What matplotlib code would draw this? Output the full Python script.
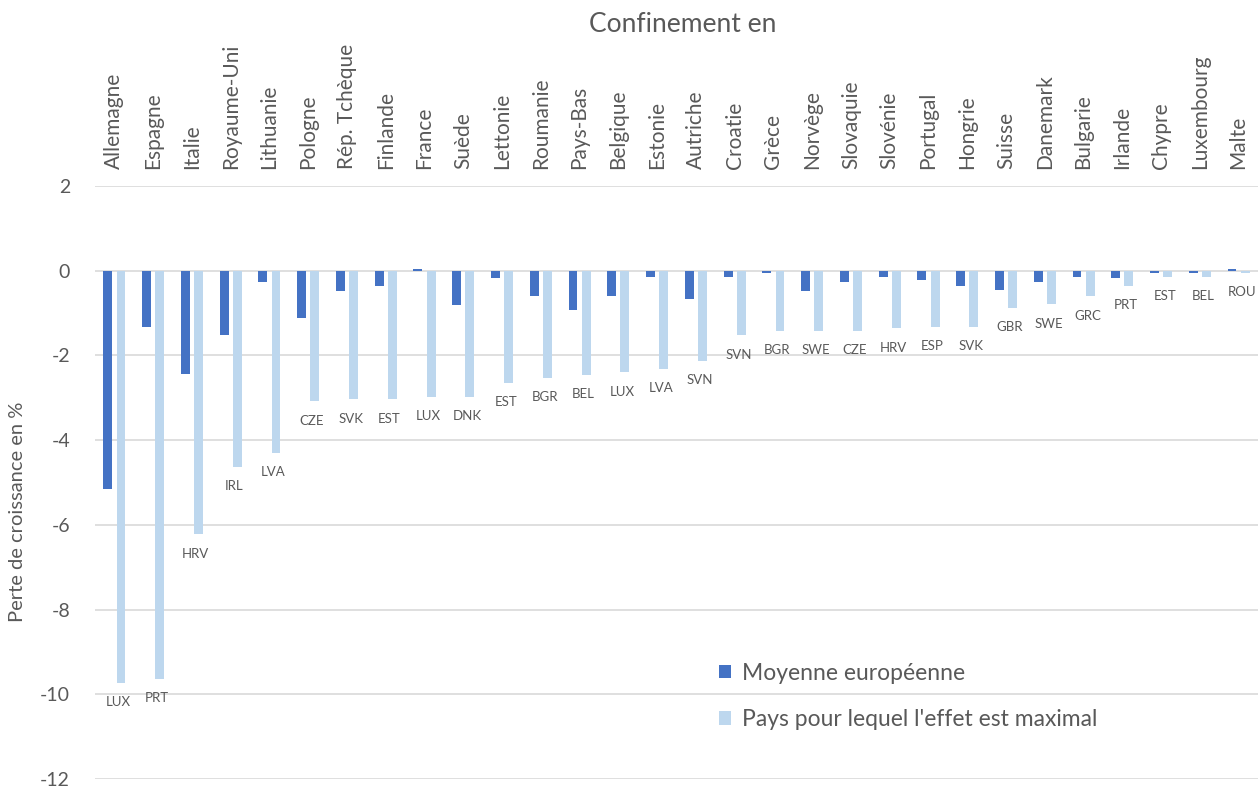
import numpy as np
import matplotlib.pyplot as plt

# Data
countries = [
    'Allemagne', 'Espagne', 'Italie', 'Royaume-Uni', 'Lithuanie', 'Pologne',
    'Rép. Tchèque', 'Finlande', 'France', 'Suède', 'Lettonie', 'Roumanie',
    'Pays-Bas', 'Belgique', 'Estonie', 'Autriche', 'Croatie', 'Grèce',
    'Norvège', 'Slovaquie', 'Slovénie', 'Portugal', 'Hongrie', 'Suisse',
    'Danemark', 'Bulgarie', 'Irlande', 'Chypre', 'Luxembourg', 'Malte'
]
moyenne = [
    -5.15, -1.33, -2.45, -1.51, -0.26, -1.12, -0.47, -0.35, 0.04, -0.81,
    -0.17, -0.60, -0.93, -0.60, -0.14, -0.66, -0.14, -0.05, -0.47, -0.26,
    -0.14, -0.23, -0.35, -0.45, -0.26, -0.14, -0.17, -0.05, -0.05, 0.04
]
maximal = [
    -9.73, -9.64, -6.22, -4.63, -4.30, -3.08, -3.04, -3.04, -2.98, -2.98,
    -2.64, -2.53, -2.46, -2.40, -2.31, -2.13, -1.52, -1.42, -1.42, -1.42,
    -1.36, -1.33, -1.33, -0.87, -0.79, -0.60, -0.35, -0.14, -0.14, -0.05
]
max_labels = [
    'LUX', 'PRT', 'HRV', 'IRL', 'LVA', 'CZE', 'SVK', 'EST', 'LUX', 'DNK',
    'EST', 'BGR', 'BEL', 'LUX', 'LVA', 'SVN', 'SVN', 'BGR', 'SWE', 'CZE',
    'HRV', 'ESP', 'SVK', 'GBR', 'SWE', 'GRC', 'PRT', 'EST', 'BEL', 'ROU'
]

plt.rcParams['font.family'] = ['Lato', 'DejaVu Sans']
plt.rcParams['axes.unicode_minus'] = False
text_col = '#595959'

fig = plt.figure(figsize=(12.58, 7.87), dpi=100)
ax = fig.add_axes([95 / 1258, 1 - 779 / 787, 1 - 95 / 1258, (779 - 186) / 787])

x = np.arange(len(countries))
w = 0.23
ax.bar(x - 0.17, moyenne, w, color='#4472C4', label='Moyenne européenne', zorder=3)
bars = ax.bar(x + 0.17, maximal, w, color='#BDD7EE',
              label="Pays pour lequel l'effet est maximal", zorder=3)

for b, lab in zip(bars, max_labels):
    ax.annotate(lab, (b.get_x() + b.get_width() / 2, b.get_height()),
                xytext=(-2, -14), textcoords='offset points',
                ha='center', va='center', fontsize=9.5, color=text_col)

ax.set_xlim(-0.5, len(countries) - 0.5)
ax.set_ylim(-12, 2)
ax.set_yticks(np.arange(-12, 3, 2))
ax.yaxis.grid(True, color='#D9D9D9', linewidth=1.2, zorder=0)
ax.set_axisbelow(True)
for s in ax.spines.values():
    s.set_visible(False)

ax.xaxis.tick_top()
ax.set_xticks(x)
ax.set_xticklabels(countries, rotation=90, fontsize=15, color=text_col)
ax.tick_params(axis='x', length=0, pad=12)
ax.tick_params(axis='y', length=0, pad=18, labelsize=14, labelcolor=text_col)

fig.text(683 / 1258, 1 - 25 / 787, 'Confinement en', ha='center', va='center',
         fontsize=19, color=text_col)
fig.text(18 / 1258, 1 - 512 / 787, 'Perte de croissance en %', rotation=90,
         ha='center', va='center', fontsize=14.5, color=text_col)

leg = ax.legend(loc='upper left', bbox_to_anchor=(698 / 1258, 1 - 642 / 787),
                bbox_transform=fig.transFigure, frameon=False, fontsize=16.5,
                handlelength=0.55, handleheight=0.55, handletextpad=0.45,
                labelspacing=1.1)
for t in leg.get_texts():
    t.set_color(text_col)

fig.savefig('out.png', dpi=100)
